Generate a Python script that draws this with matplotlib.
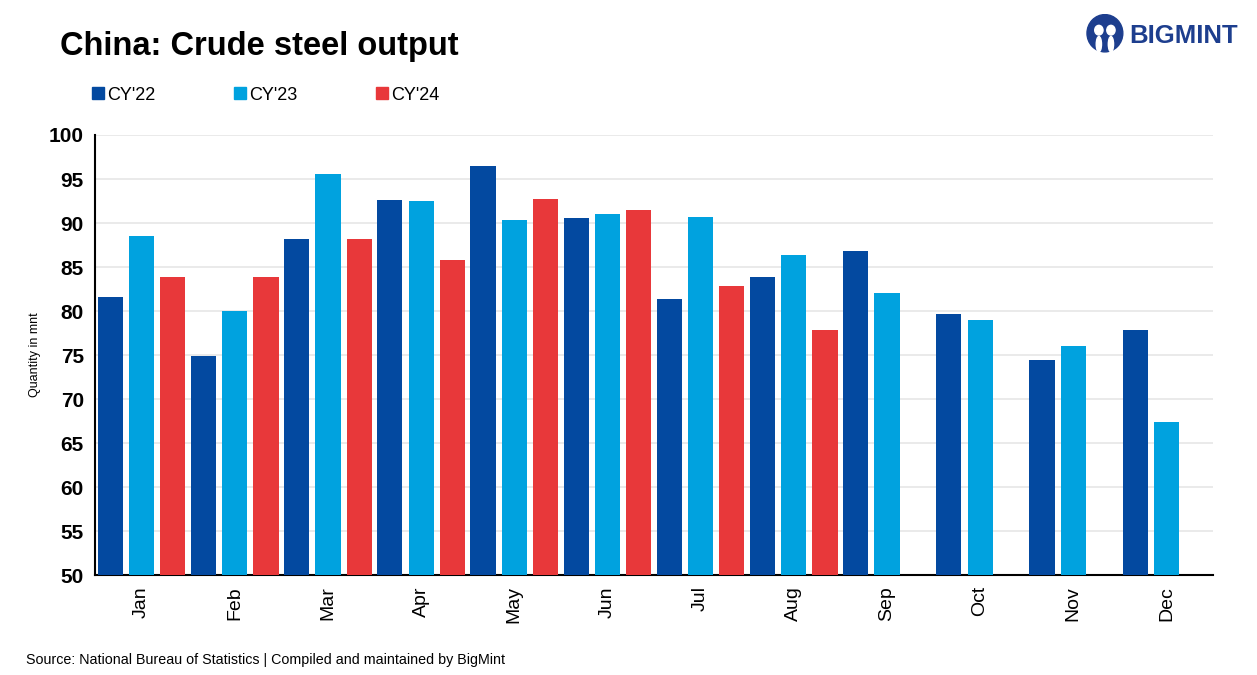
import matplotlib.pyplot as plt
import numpy as np
from matplotlib.lines import Line2D
from matplotlib.patches import Circle, Ellipse

plt.rcParams['font.family'] = ['Liberation Sans', 'DejaVu Sans']

months = ["Jan", "Feb", "Mar", "Apr", "May", "Jun", "Jul", "Aug", "Sep", "Oct", "Nov", "Dec"]
cy22 = [81.6, 74.9, 88.2, 92.6, 96.5, 90.6, 81.4, 83.9, 86.8, 79.7, 74.4, 77.8]
cy23 = [88.5, 80.0, 95.6, 92.5, 90.3, 91.0, 90.7, 86.4, 82.0, 79.0, 76.0, 67.4]
cy24 = [83.9, 83.9, 88.2, 85.8, 92.7, 91.5, 82.8, 77.8]
series = ["CY'22", "CY'23", "CY'24"]
colors = ["#0349A0", "#00A2DF", "#E8383A"]


def main() -> None:
    fig = plt.figure(figsize=(12.57, 6.75), dpi=100)
    ax = fig.add_axes([0.0756, 0.148, 0.8894, 0.652])

    x = np.arange(len(months))
    width = 0.27
    offset = 0.335
    base = 50
    for i, (vals, col) in enumerate(zip([cy22, cy23, cy24], colors)):
        xs = x[:len(vals)] + (i - 1) * offset
        ax.bar(xs, np.array(vals) - base, width, bottom=base, color=col, zorder=3)

    ax.set_xlim(-0.5, 11.5)
    ax.set_ylim(50, 100)
    ax.set_yticks(range(50, 101, 5))
    ax.set_yticklabels([str(v) for v in range(50, 101, 5)], fontsize=15, fontweight='bold')
    ax.set_xticks(x)
    ax.set_xticklabels(months, rotation=90, fontsize=14)
    ax.tick_params(length=0, pad=8)
    ax.yaxis.grid(True, color="#e6e6e6", linewidth=1.2, zorder=0)
    for s in ["top", "right"]:
        ax.spines[s].set_visible(False)
    for s in ["left", "bottom"]:
        ax.spines[s].set_linewidth(1.5)
        ax.spines[s].set_color("black")
    ax.set_ylabel("Quantity in mnt", fontsize=9, labelpad=6)

    fig.text(0.048, 0.931, "China: Crude steel output", fontsize=23.5, fontweight='bold',
             va='center', ha='left')

    handles = [Line2D([], [], marker='s', linestyle='none', color=c, markersize=8) for c in colors]
    fig.legend(handles, series, loc='center left', bbox_to_anchor=(0.058, 0.859), ncol=3,
               frameon=False, fontsize=13, handletextpad=0.0, columnspacing=4.2,
               handlelength=1.0)

    fig.text(0.021, 0.022, "Source: National Bureau of Statistics | Compiled and maintained by BigMint",
             fontsize=10.3, va='center', ha='left')

    # logo
    fig.text(0.898, 0.946, "BIGMINT", fontsize=18.5, fontweight='bold', color="#1D3E8E",
             va='center', ha='left')
    lax = fig.add_axes([0.864, 0.915, 0.03, 0.065])
    lax.set_xlim(0, 1)
    lax.set_ylim(0, 1)
    lax.axis('off')
    lax.add_patch(Ellipse((0.5, 0.55), 0.95, 0.85, color="#1D3E8E"))
    lax.add_patch(Circle((0.34, 0.62), 0.11, color="white"))
    lax.add_patch(Circle((0.66, 0.62), 0.11, color="white"))
    lax.add_patch(Ellipse((0.34, 0.3), 0.14, 0.35, color="white"))
    lax.add_patch(Ellipse((0.66, 0.3), 0.14, 0.35, color="white"))

    fig.savefig("out.png", dpi=100)


if __name__ == '__main__':
    main()
